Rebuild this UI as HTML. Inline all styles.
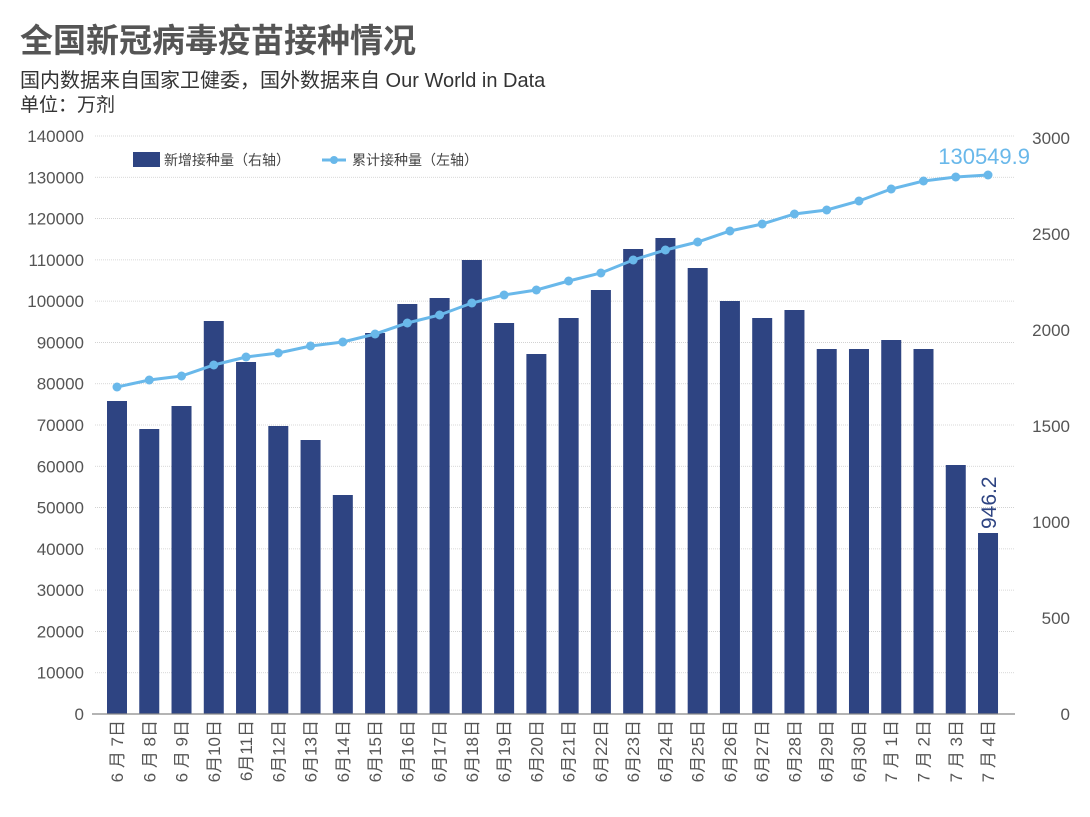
<!DOCTYPE html>
<html><head><meta charset="utf-8"><style>
body{margin:0;background:#fff;width:1090px;height:817px;overflow:hidden}
svg{display:block;font-family:"Liberation Sans","Noto Sans CJK SC",sans-serif}
</style></head><body>
<svg id="s" width="1090" height="817" viewBox="0 0 1090 817">
<text x="20" y="52" font-size="33" font-weight="bold" fill="#555">全国新冠病毒疫苗接种情况</text>
<text x="20" y="87" font-size="20" fill="#333">国内数据来自国家卫健委，国外数据来自 Our World in Data</text>
<text x="20" y="111" font-size="19" fill="#333">单位：万剂</text>
<rect x="133" y="152" width="27" height="15" fill="#2e4482"/>
<text x="164" y="165" font-size="14" fill="#444">新增接种量（右轴）</text>
<line x1="322" y1="160" x2="346" y2="160" stroke="#69b8ea" stroke-width="3"/>
<circle cx="334" cy="160" r="4" fill="#69b8ea"/>
<text x="352" y="165" font-size="14" fill="#444">累计接种量（左轴）</text>
<g id="g"></g>
</svg>
<script>
var g=document.getElementById('g'),h='';
var ns=[140000,130000,120000,110000,100000,90000,80000,70000,60000,50000,40000,30000,20000,10000,0];
for(var i=0;i<15;i++){var y=136+i*578/14;
 if(i<14)h+='<line x1="95" x2="1015" y1="'+y+'" y2="'+y+'" stroke="#ccc" stroke-width="0.8" stroke-dasharray="1,1"/>';
 h+='<text x="84" y="'+(y+6)+'" font-size="17" fill="#555" text-anchor="end">'+ns[i]+'</text>';}
for(var i=0;i<7;i++){var y=714-i*96;h+='<text x="1070" y="'+(y+6)+'" font-size="17" fill="#555" text-anchor="end">'+(i*500)+'</text>';}
var bt=[401,429,406,321,362,426,440,495,333,304,298,260,323,354,318,290,249,238,268,301,318,310,349,349,340,349,465,533];
var lt=[387,380,376,365,357,353,346,342,334,323,315,303,295,290,281,273,260,250,242,231,224,214,210,201,189,181,177,175];
var pts=[];
for(var i=0;i<28;i++){var c=117+i*32.26;
 h+='<rect x="'+(c-10)+'" y="'+bt[i]+'" width="20" height="'+(714-bt[i])+'" fill="#2e4482"/>';
 pts.push(c+','+lt[i]);
 var m=i<24?6:7,d=i<24?7+i:i-23;
 var lab=m+(d<10?' 月 ':'月')+d+'日';
 h+='<text transform="translate('+(c+6)+',720) rotate(-90)" font-size="17" fill="#555" text-anchor="end">'+lab+'</text>';}
h+='<line x1="92" x2="1015" y1="714" y2="714" stroke="#888" stroke-width="1.2"/>';
h+='<polyline points="'+pts.join(' ')+'" fill="none" stroke="#69b8ea" stroke-width="3"/>';
pts.forEach(function(p){var a=p.split(',');h+='<circle cx="'+a[0]+'" cy="'+a[1]+'" r="4.5" fill="#69b8ea"/>';});
h+='<text x="1030" y="164" font-size="22" fill="#69b8ea" text-anchor="end">130549.9</text>';
h+='<text transform="translate(996,529) rotate(-90)" font-size="21" fill="#2e4482">946.2</text>';
g.innerHTML=h;
</script>
</body></html>
